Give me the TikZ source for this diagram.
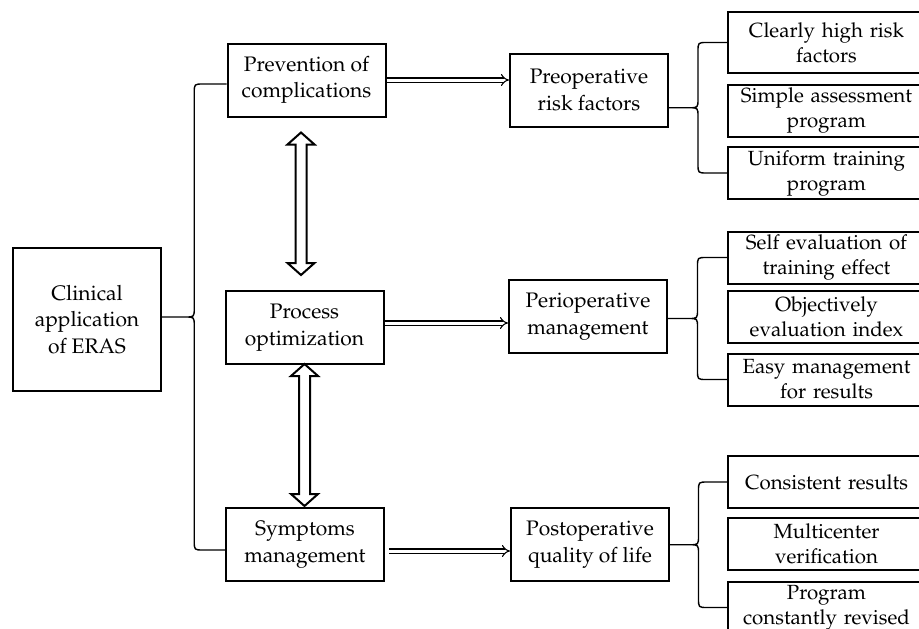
\documentclass[tikz,border=0pt]{standalone}
\usepackage[T1]{fontenc}
\usepackage{mathpazo}
\usetikzlibrary{arrows.meta,calc}
\tikzset{
  box/.style={draw,line width=2pt,align=center,inner sep=1pt,
    font=\fontsize{21}{26.5}\selectfont},
  mainbox/.style={box,minimum width=148pt,minimum height=143pt},
  stagebox/.style={box,minimum width=158pt,minimum height=73pt},
  itembox/.style={box,minimum width=197pt,text width=195pt,minimum height=52pt,
    font=\fontsize{20.5}{25}\selectfont},
  thinarrow/.style={double,double distance=3pt,line width=1.1pt,-{Implies}},
  brace/.style={line width=1.4pt},
  hollow/.style={line width=2pt,fill=white,line join=miter}
}
\begin{document}
\begin{tikzpicture}[x=1pt,y=-1pt]
  \useasboundingbox (0,0) rectangle (919,629);
  % root and stages
  \node[mainbox] (clin) at (87,319.5) {Clinical\\application\\of ERAS};
  \node[stagebox] (prev) at (306.5,80) {Prevention of\\complications};
  \node[stagebox] (proc) at (304.5,327.5) {Process\\optimization};
  \node[stagebox] (symp) at (305,544.5) {Symptoms\\management};
  % goals
  \node[stagebox] (preop) at (589,90) {Preoperative\\risk factors};
  \node[stagebox] (peri) at (588,316.5) {Perioperative\\management};
  \node[stagebox] (postop) at (590,544.5) {Postoperative\\quality of life};
  % items
  \node[itembox,minimum height=61pt] (ra) at (826.5,42.5) {Clearly high risk\\factors};
  \node[itembox] (rb) at (826.5,110.5) {Simple assessment\\program};
  \node[itembox] (rc) at (826.5,173) {Uniform training\\program};
  \node[itembox] (sa) at (826.5,257.5) {Self evaluation of\\training effect};
  \node[itembox] (sb) at (826.5,316.5) {Objectively\\evaluation index};
  \node[itembox] (sc) at (826.5,379.5) {Easy management\\for results};
  \node[itembox] (ta) at (826.5,482) {Consistent results};
  \node[itembox] (tb) at (826.5,544) {Multicenter\\verification};
  \node[itembox] (tc) at (826.5,607.5) {Program\\constantly revised};

  % stage -> goal
  \coordinate (procout) at ($(proc.east)+(0,-4.5)$);
  \coordinate (sympout) at ($(symp.east)+(4,6.5)$);
  \draw[thinarrow] (prev.east) -- (prev.east -| preop.west);
  \draw[thinarrow] (procout) -- (procout -| peri.west);
  \draw[thinarrow] (sympout) -- (sympout -| postop.west);

  % hollow double arrows between stages
  \coordinate (ua) at ($(prev.south)+(-5.5,15)$);
  \coordinate (ub) at ($(proc.north)+(-3.5,-15)$);
  \coordinate (la) at ($(proc.south)+(0,-1)$);
  \coordinate (lb) at ($(symp.north)+(-0.5,-1)$);
  \foreach \t/\b in {ua/ub,la/lb}
    \draw[hollow] (\t) -- ++(13.5,12) -- ++(-8,0) -- ($(\b)+(5.5,-12)$)
      -- ++(8,0) -- (\b) -- ++(-13.5,-12) -- ++(8,0) -- ($(\t)+(-5.5,12)$)
      -- ++(-8,0) -- cycle;

  % braces
  \coordinate (lt) at ($(prev.west)+(0,4)$);
  \coordinate (lo) at ($(symp.west)+(0,5.5)$);
  \foreach \s/\u/\l in {clin.east/lt/lo,preop.east/ra.west/rc.west,
      peri.east/sa.west/sc.west,postop.east/ta.west/tc.west}
    \draw[brace] let \p1=(\u), \p2=(\l), \p3=(\s),
        \p4=($(\p1)!.5!(\p2)$), \p5=($(\p3)!.5!(\p1)$) in
      (\p1) -- (\x5+9pt,\y1) .. controls (\x5,\y1) .. (\x5,\y1-9pt)
      -- (\x5,\y4+9pt) .. controls (\x5,\y4) .. (\x5-9pt,\y4) -- (\x3,\y4)
      (\x5-9pt,\y4) .. controls (\x5,\y4) .. (\x5,\y4-9pt)
      -- (\x5,\y2+9pt) .. controls (\x5,\y2) .. (\x5+9pt,\y2) -- (\p2);
\end{tikzpicture}
\end{document}
